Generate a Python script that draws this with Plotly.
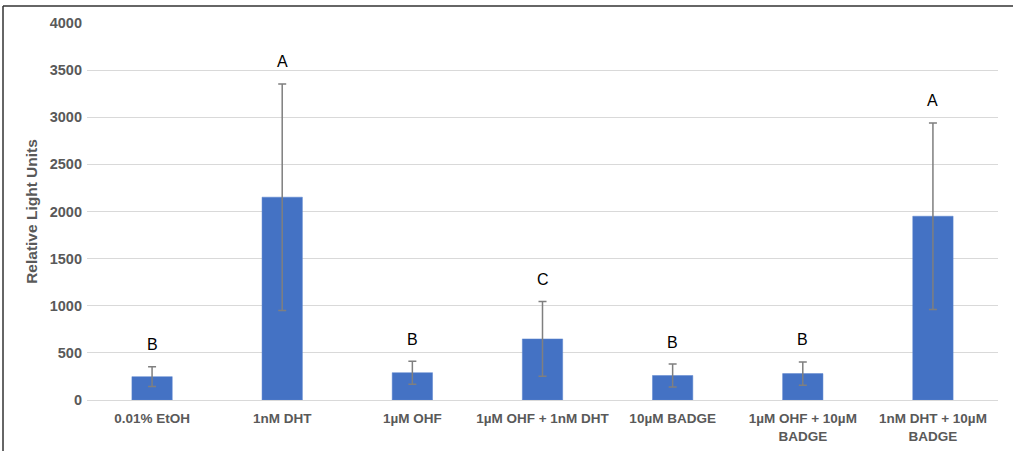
import plotly.graph_objects as go

categories = ["0.01% EtOH", "1nM DHT", "1µM OHF", "1µM OHF + 1nM DHT",
              "10µM BADGE", "1µM OHF + 10µM<br>BADGE", "1nM DHT + 10µM<br>BADGE"]
means = [248, 2152, 290, 648, 260, 280, 1950]
errors = [106, 1202, 122, 397, 122, 124, 990]
letters = ["B", "A", "B", "C", "B", "B", "A"]
yticks = [0, 500, 1000, 1500, 2000, 2500, 3000, 3500, 4000]

fig = go.Figure()
fig.add_trace(go.Bar(
    x=categories, y=means,
    marker=dict(color="#4472C4", line=dict(color="#5b85cf", width=0.5)),
    width=0.31,
    error_y=dict(type="data", array=errors, visible=True, color="#7f7f7f", thickness=1.5, width=4),
))

for c, m, e, l in zip(categories, means, errors, letters):
    fig.add_annotation(x=c, y=m + e, text=l, showarrow=False, yshift=22,
                       font=dict(family="Liberation Sans, Arial", size=16, color="#000000"))

# image border (top and left)
fig.add_shape(type="line", xref="paper", yref="paper", x0=-0.0922, x1=1.05, y0=1.045, y1=1.045,
              line=dict(color="#333333", width=1.5))
fig.add_shape(type="line", xref="paper", yref="paper", x0=-0.0922, x1=-0.0922, y0=-0.2, y1=1.045,
              line=dict(color="#333333", width=1.5))

fig.update_layout(
    width=1013, height=451,
    margin=dict(l=87, r=15, t=23, b=51),
    paper_bgcolor="white", plot_bgcolor="white",
    showlegend=False,
    font=dict(family="Liberation Sans, Arial", color="#595959"),
    xaxis=dict(tickfont=dict(size=13.5, color="#595959", weight="bold"), showgrid=False,
               showline=True, linecolor="#d9d9d9", linewidth=1, ticks="", automargin=False,
               ticklabelstandoff=6),
    yaxis=dict(range=[0, 4000], tickvals=yticks, showgrid=True, gridcolor="#d9d9d9", gridwidth=1,
               zeroline=False, ticks="", ticklabelstandoff=4, automargin=False,
               tickfont=dict(size=14.5, color="#595959", weight="bold"),
               title=dict(text="Relative Light Units", font=dict(size=15.5, color="#595959", weight="bold"),
                          standoff=8)),
)

fig.write_html("out.html", config={"displayModeBar": False},
               post_script="document.body.style.margin='0';document.body.style.overflow='hidden';")
